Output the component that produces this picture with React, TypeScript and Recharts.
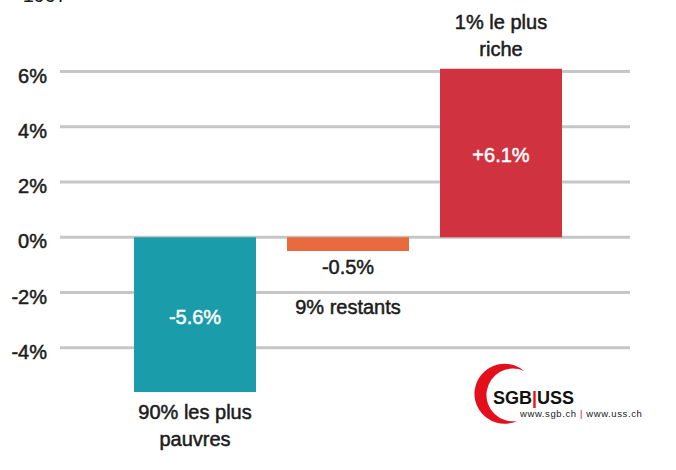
import React from 'react';
import { BarChart, Bar, XAxis, YAxis, CartesianGrid, Cell, LabelList } from 'recharts';

const categories = ['90% les plus\npauvres', '9% restants', '1% le plus\nriche'];
const values = [-5.6, -0.5, 6.1];
const valueLabels = ['-5.6%', '-0.5%', '+6.1%'];
const barColors = ['#1a9caa', '#ea6a40', '#d0323f'];
const yTicks = [-4, -2, 0, 2, 4, 6];

const FONT = '"Liberation Sans", Arial, Helvetica, sans-serif';
const INK = '#1c1c1c';

const data = categories.map((name, i) => ({ name, value: values[i], label: valueLabels[i] }));

const YTick = (props: any) => {
  const { y, payload } = props;
  return (
    <text
      x={47}
      y={y + 4}
      textAnchor="end"
      dominantBaseline="central"
      fontFamily={FONT}
      fontSize={20}
      fill={INK}
      stroke={INK}
      strokeWidth={0.5}
    >
      {payload.value}%
    </text>
  );
};

const BarLabels = (props: any) => {
  const vb = props.viewBox || {};
  const x = Number(props.x ?? vb.x);
  const y = Number(props.y ?? vb.y);
  const w = Number(props.width ?? vb.width);
  const h = Number(props.height ?? vb.height);
  const i = props.index as number;
  const v = values[i];
  const top = Math.min(y, y + h);
  const bottom = Math.max(y, y + h);
  const cx = x + w / 2;
  const inside = Math.abs(h) > 40;
  const lines = categories[i].split('\n');
  let catY: number[];
  if (v < 0) {
    const start = inside ? bottom + 20 : bottom + 56;
    catY = lines.map((_, k) => start + k * 27);
  } else {
    catY = lines.map((_, k) => top - 20 - (lines.length - 1 - k) * 27);
  }
  const valColor = inside ? '#ffffff' : INK;
  return (
    <g fontFamily={FONT} fontSize={20} textAnchor="middle">
      <text
        x={cx}
        y={inside ? (top + bottom) / 2 + 2 : bottom + 16}
        dominantBaseline="central"
        fill={valColor}
        stroke={valColor}
        strokeWidth={0.5}
      >
        {valueLabels[i]}
      </text>
      {lines.map((ln, k) => (
        <text key={k} x={cx} y={catY[k]} dominantBaseline="central" fill={INK} stroke={INK} strokeWidth={0.5}>
          {ln}
        </text>
      ))}
    </g>
  );
};

const Logo = () => (
  <svg width={676} height={470} style={{ position: 'absolute', left: 0, top: 0, pointerEvents: 'none' }}>
    <text x={45} y={2} textAnchor="middle" fontFamily={FONT} fontSize={20} fill={INK}>1997</text>
    <path d="M 524 371 A 30 30 0 1 0 517 421 A 26.4 26.4 0 1 1 524 371 Z" fill="#e3101c" />
    <text x={493} y={404} fontFamily={FONT} fontSize={18} fontWeight="bold" fill="#111">
      SGB
      <tspan fill="#e3101c">|</tspan>
      USS
    </text>
    <text x={520} y={417} fontFamily={FONT} fontSize={9.5} fill="#222" letterSpacing={0.6}>
      www.sgb.ch<tspan fill="#e3101c"> | </tspan>www.uss.ch
    </text>
  </svg>
);

export default function App() {
  return (
    <div style={{ position: 'absolute', left: 0, top: 0, width: 676, height: 470, background: '#fff' }}>
      <BarChart width={676} height={470} data={data} margin={{ top: 44, right: 46, bottom: 67, left: 0 }}>
        <CartesianGrid vertical={false} stroke="#c6c6c6" strokeWidth={3} horizontalValues={yTicks} />
        <XAxis dataKey="name" hide padding={{ left: 58, right: 53 }} />
        <YAxis
          width={60}
          domain={[-6, 7]}
          ticks={yTicks}
          interval={0}
          axisLine={false}
          tickLine={false}
          tick={<YTick />}
        />
        <Bar dataKey="value" barSize={122} isAnimationActive={false}>
          {data.map((d, i) => (
            <Cell key={d.name} fill={barColors[i]} />
          ))}
          <LabelList dataKey="value" content={<BarLabels />} />
        </Bar>
      </BarChart>
      <Logo />
    </div>
  );
}
